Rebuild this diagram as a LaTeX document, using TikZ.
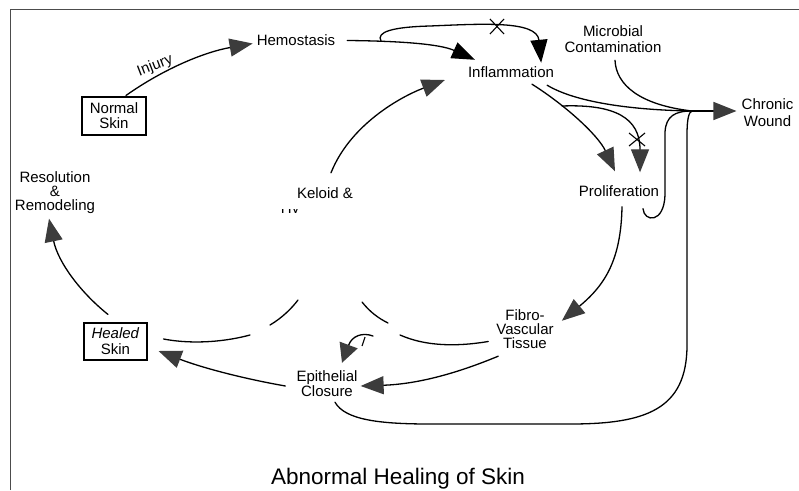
\documentclass[tikz,border=0pt]{standalone}
\usepackage{fontspec}
\setmainfont{Liberation Sans}
\usetikzlibrary{arrows.meta,calc}
\definecolor{arrgray}{HTML}{3C3C3C}
\begin{document}
\begin{tikzpicture}[x=1pt,y=-1pt,
  lbl/.style={inner sep=0pt,align=center,font=\fontsize{15}{15}\selectfont},
  boxn/.style={lbl,draw,line width=1.1pt,minimum width=64pt,minimum height=38pt},
  conn/.style={line width=1.3pt,line cap=round},
  gh/.style={conn,-{Triangle[length=23pt,width=18pt,color=arrgray]}},
  gsmall/.style={conn,-{Triangle[length=19pt,width=19pt,color=arrgray]}},
  bh/.style={conn,-{Triangle[length=23pt,width=17pt,color=black]}},
  xmark/.style={line width=1.1pt}
]
\useasboundingbox (0,0) rectangle (799,490);
\fill[white] (0,0) rectangle (799,490);
% frame
\draw[line width=1pt,black!70] (10,490) -- (10,9) -- (799,9);

% nodes
\node[lbl] (hemo) at (296,40.5) {Hemostasis};
\node[boxn,font=\fontsize{15}{15}\selectfont] (normal) at (114,116) {Normal\\Skin};
\node[lbl,rotate=21] (injury) at (155,66) {Injury};
\node[lbl,font=\fontsize{15}{14}\selectfont] (resol) at (55,192.5) {Resolution\\\&\\Remodeling};
\node[boxn,minimum width=63pt,minimum height=37pt,font=\fontsize{15}{16}\selectfont] (healed) at (115.5,341.5) {\textit{Healed}\\Skin};
\node[lbl] (keloid) at (325,193) {Keloid \&};
\node[lbl] (infl) at (511,72.5) {Inflammation};
\node[lbl,font=\fontsize{15}{16}\selectfont] (micro) at (613,39.5) {Microbial\\Contamination};
\node[lbl,font=\fontsize{15}{17}\selectfont] (chronic) at (767.5,113) {Chronic\\Wound};
\node[lbl] (prolif) at (619,191) {Proliferation};
\node[lbl,font=\fontsize{15}{14}\selectfont] (fibro) at (525,329.5) {Fibro-\\Vascular\\Tissue};
\node[lbl] (epi) at (327,384) {Epithelial\\Closure};
\node[inner sep=0pt,font=\fontsize{22.5}{22.5}\selectfont] (title) at (398,479) {Abnormal Healing of Skin};
\begin{scope}
  \clip (278,209) rectangle (298,212.5);
  \node[lbl,anchor=base] (hyper) at (323.5,213) {Hypertrophic};
\end{scope}

% named free points
\coordinate (merge) at (692,111);
\coordinate (lp) at (381,41);
\coordinate (br) at (562,106);

% Injury
\draw[gh] ($(normal.north)+(12,-1)$) .. controls (165,68) and (205,52) .. ($(hemo.west)+(-4,3)$);
% Hemostasis -> Inflammation (black)
\draw[bh] ($(hemo.east)+(12,0)$) .. controls (400,41) and (440,44) .. ($(infl.north west)+(7,-7)$);
% blocked loop to Inflammation
\draw[bh] (lp) .. controls (376,32) and (392,27) .. (430,26) .. controls (480,24) and (537,20) .. ($(infl.north east)+(-13,-4)$);
\draw[xmark] (490,19) -- (504,34) (490,34) -- (504,19);
% Keloid -> Inflammation
\draw[gh] ($(keloid.north)+(6,-14.5)$) .. controls (350,125) and (400,97) .. ($(infl.west)+(-23,7.5)$);
% Inflammation -> Proliferation
\draw[gh] ($(infl.south)+(21,6)$) .. controls (565,105) and (598,135) .. ($(prolif.north)+(-4,-14)$);
% blocked branch to Proliferation
\draw[gh] (br) .. controls (615,104) and (640,118) .. ($(prolif.north)+(21,-13)$);
\draw[xmark] (629,133) -- (645,146) (629,146) -- (645,133);
% lines merging to Chronic Wound
\draw[conn] ($(infl.south east)+(-7,7)$) .. controls (575,102) and (630,110) .. (merge);
\draw[conn] ($(micro.south)+(2,7)$) .. controls (616,85) and (640,105) .. (merge);
\draw[conn] ($(prolif.south)+(24,12)$) .. controls (644,222) and (664,224) .. (665,195) -- (665,132) .. controls (666,116) and (675,111) .. (merge);
\draw[conn] ($(epi.south)+(8,5)$) .. controls (345,420) and (380,424) .. (430,424) -- (570,424) .. controls (645,424) and (687,410) .. (687,345) -- (687,135) .. controls (687,118) and (689,112) .. (merge);
\draw[gh] (merge) -- ($(chronic.west)+(-5,-2)$);
% Proliferation -> Fibro-Vascular
\draw[gh] ($(prolif.south)+(3,10)$) .. controls (621,260) and (605,285) .. ($(fibro.north east)+(8,11)$);
% Fibro-Vascular -> Epithelial
\draw[gh] ($(fibro.south west)+(2,7)$) .. controls (460,372) and (420,384) .. ($(epi.east)+(3,2)$);
% Epithelial -> Healed Skin
\draw[gh] ($(epi.west)+(-11,2)$) .. controls (240,378) and (200,367) .. ($(healed.east)+(11,9.5)$);
% Healed Skin -> Resolution
\draw[gh] ($(healed.north)+(-7.5,-8)$) .. controls (80,292) and (58,262) .. ($(resol.south)+(-6,5)$);
% partially hidden connectors
\coordinate (ha) at (250,335);
\coordinate (hb) at (270,325);
\coordinate (hc) at (298,300);
\draw[conn] ($(healed.east)+(16,-2.5)$) .. controls (195,345) and (228,341) .. (ha);
\draw[conn] (hb) .. controls (282,318) and (292,308) .. (hc);
\coordinate (fa) at (362,302);
\coordinate (fb) at (388,323);
\coordinate (fc) at (400,335);
\draw[conn] (fa) .. controls (370,312) and (378,318) .. (fb);
\draw[conn] (fc) .. controls (425,346) and (455,347) .. ($(fibro.west)+(-8,12)$);
\coordinate (sa) at (373,336);
\draw[gsmall] (sa) .. controls (362,332) and (352,336) .. ($(epi.north)+(15,-8)$);
\draw[xmark] (365,337) -- (362,346);
\end{tikzpicture}
\end{document}
